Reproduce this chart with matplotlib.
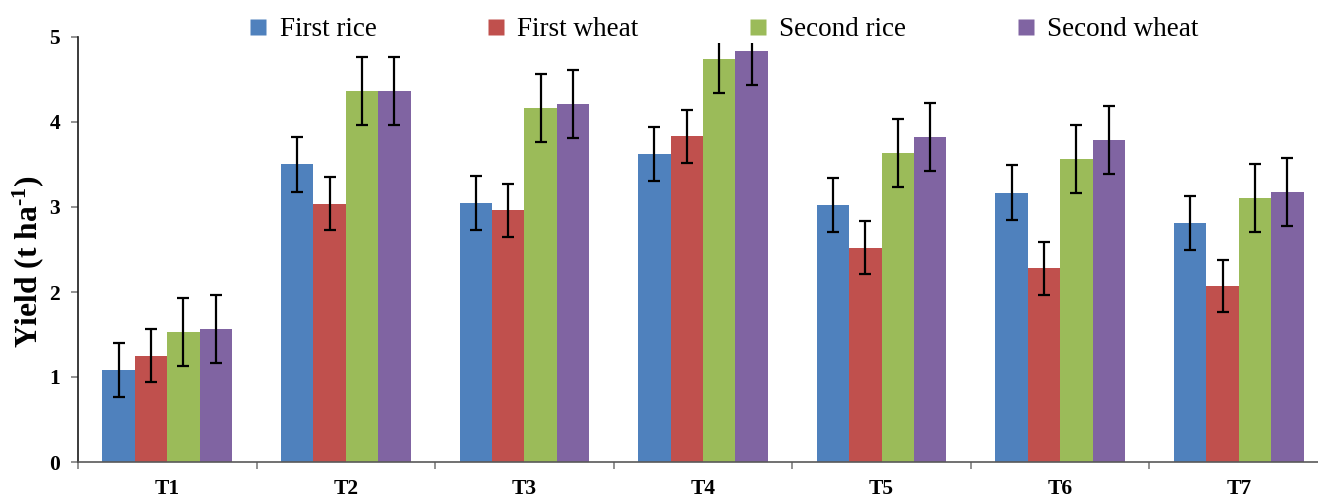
import matplotlib
matplotlib.use("Agg")
import matplotlib.pyplot as plt
import numpy as np
from matplotlib.lines import Line2D
from matplotlib.patches import Rectangle

categories = ["T1", "T2", "T3", "T4", "T5", "T6", "T7"]
series_names = ["First rice", "First wheat", "Second rice", "Second wheat"]
first_rice = [1.08, 3.50, 3.05, 3.62, 3.02, 3.17, 2.81]
first_wheat = [1.25, 3.04, 2.96, 3.83, 2.52, 2.28, 2.07]
second_rice = [1.53, 4.36, 4.16, 4.74, 3.63, 3.56, 3.11]
second_wheat = [1.56, 4.36, 4.21, 4.84, 3.82, 3.79, 3.18]
err_first_rice = [0.32, 0.32, 0.32, 0.32, 0.32, 0.32, 0.32]
err_first_wheat = [0.31, 0.31, 0.31, 0.31, 0.31, 0.31, 0.31]
err_second_rice = [0.40, 0.40, 0.40, 0.40, 0.40, 0.40, 0.40]
err_second_wheat = [0.40, 0.40, 0.40, 0.40, 0.40, 0.40, 0.40]
y_ticks = [0, 1, 2, 3, 4, 5]

values = [first_rice, first_wheat, second_rice, second_wheat]
errors = [err_first_rice, err_first_wheat, err_second_rice, err_second_wheat]
colors = ["#4F81BD", "#C0504D", "#9BBB59", "#8064A2"]

plt.rcParams['font.family'] = ['Liberation Serif', 'DejaVu Serif']
plt.rcParams['mathtext.fontset'] = 'custom'
plt.rcParams['mathtext.rm'] = 'Liberation Serif:bold'
plt.rcParams['mathtext.bf'] = 'Liberation Serif:bold'
plt.rcParams['mathtext.it'] = 'Liberation Serif:bold'

fig = plt.figure(figsize=(13.18, 4.97), dpi=100)
ax = fig.add_axes([78/1318, 35/497, (1328-78)/1318, (462-37)/497])

x = np.arange(len(categories))
w = 0.1815
clip = Rectangle((0, 0), 1, 4.93/5, transform=ax.transAxes, visible=False)
ax.add_patch(clip)
for i, (vals, errs, c) in enumerate(zip(values, errors, colors)):
    pos = x + (i - 1.5) * w
    ax.bar(pos, vals, width=w, color=c, edgecolor='none', zorder=2)
    eb = ax.errorbar(pos, vals, yerr=errs, fmt='none', ecolor='black',
                     elinewidth=1.6, capsize=4.5, capthick=1.6, zorder=3)
    for art in list(eb.lines[1]) + list(eb.lines[2]):
        art.set_clip_path(clip)

ax.set_xlim(-0.5, len(categories) - 0.5)
ax.set_ylim(0, 5)
ax.set_yticks(y_ticks)
ax.set_yticklabels([str(t) for t in y_ticks], fontsize=15.5, fontweight='bold')
ax.set_xticks(x)
ax.set_xticklabels(categories, fontsize=15.5, fontweight='bold')
ax.set_xticks(np.arange(len(categories) + 1) - 0.5, minor=True)
ax.tick_params(axis='x', which='major', length=0, pad=12)
ax.tick_params(axis='x', which='minor', length=5, width=1.2, color='#7f7f7f')
ax.tick_params(axis='y', length=5, width=1.2, color='#7f7f7f', pad=8)
for s in ['top', 'right']:
    ax.spines[s].set_visible(False)
ax.spines['left'].set_color('#1a1a1a')
ax.spines['bottom'].set_color('#595959')
for s in ['left', 'bottom']:
    ax.spines[s].set_linewidth(1.2)

ax.set_ylabel(r"Yield (t ha$^{\text{-1}}$)", fontsize=22.7, fontweight='bold')
ax.yaxis.set_label_coords(-0.0255, 0.47)

handles = [Line2D([], [], linestyle='none', marker='s', markersize=11,
                  markerfacecolor=c, markeredgecolor='none') for c in colors]
fig.legend(handles, series_names, loc='center', bbox_to_anchor=(0.5495, 0.94),
           ncol=4, frameon=False, fontsize=19.5, handlelength=0.6,
           handletextpad=0.5, columnspacing=4.1, borderaxespad=0)

fig.savefig("out.png", dpi=100)
